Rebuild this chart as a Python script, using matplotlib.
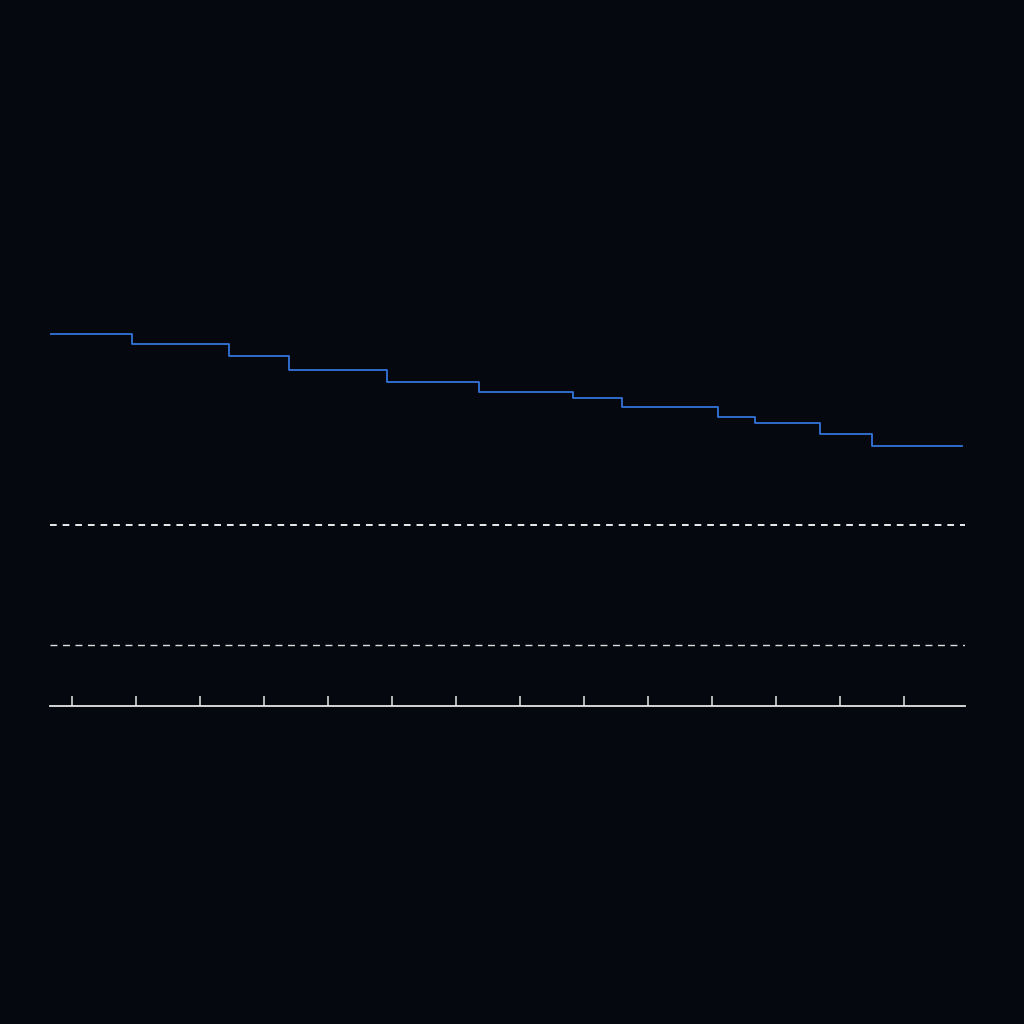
import numpy as np
from matplotlib import pyplot as plt

BG = "#05080f"
LINE_BLUE = "#3274d9"

# step curve: change points (x) and level held after each point
step_x = [-3.4, 9.4, 24.5, 33.9, 49.2, 63.6, 78.3, 85.9, 100.9, 106.7, 116.9, 125.0, 139.1]
step_y = [0.776, 0.755, 0.730, 0.699, 0.676, 0.655, 0.641, 0.622, 0.603, 0.589, 0.566, 0.541, 0.541]

ref_levels = [0.377, 0.127]
tick_pos = np.arange(0, 140, 10)

fig = plt.figure(figsize=(10.24, 10.24), dpi=100, facecolor=BG)
ax = fig.add_axes([50 / 1024, 318 / 1024, 915 / 1024, 480 / 1024])
ax.set_facecolor(BG)

ax.step(step_x, step_y, where="post", color=LINE_BLUE, lw=1.3)

ax.axhline(ref_levels[0], color="white", lw=1.3, ls=(0, (3.7, 3.3)))
ax.axhline(ref_levels[1], color="#dddddd", lw=1.0, ls=(0, (5, 4)))

ax.set_xlim(-3.44, 139.5)
ax.set_ylim(0, 1)

for side in ["top", "right", "left"]:
    ax.spines[side].set_visible(False)
ax.spines["bottom"].set_color("#e6e6e6")
ax.spines["bottom"].set_linewidth(1.3)

ax.set_xticks(tick_pos)
ax.set_xticklabels([])
ax.set_yticks([])
ax.tick_params(axis="x", direction="in", length=7.5, width=1.1, color="#e6e6e6")

plt.savefig("out.png", dpi=100, facecolor=BG)
